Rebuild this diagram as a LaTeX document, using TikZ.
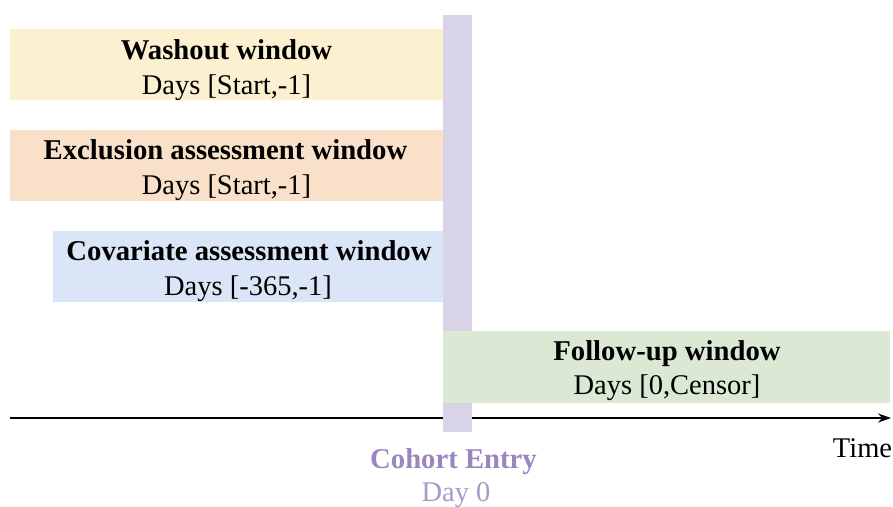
\documentclass[tikz,border=0pt]{standalone}
\usepackage{fontspec}
\setmainfont{Liberation Serif}
\usetikzlibrary{arrows.meta}
\definecolor{washc}{HTML}{FBF0CF}
\definecolor{exclc}{HTML}{F9E0C8}
\definecolor{covc}{HTML}{DAE6F8}
\definecolor{follc}{HTML}{DAE8D4}
\definecolor{barc}{HTML}{D9D3E8}
\definecolor{cohc}{HTML}{9A86BF}
\tikzset{
  winbox/.style={draw=none, inner sep=0pt, outer sep=0pt, anchor=north west},
  titletxt/.style={inner sep=0pt, anchor=base, font=\fontsize{28.7pt}{34pt}\selectfont\bfseries},
  daytxt/.style={inner sep=0pt, anchor=base, font=\fontsize{28.5pt}{34pt}\selectfont},
  axisline/.style={line width=1.5pt, -{Stealth[length=13pt,width=9pt]}}
}
\begin{document}
\begin{tikzpicture}[x=1pt,y=-1pt]
\useasboundingbox (0,0) rectangle (893,506);
% window boxes
\node[winbox, fill=washc, minimum width=433pt, minimum height=71pt] (wbox) at (10,29) {};
\node[winbox, fill=exclc, minimum width=433pt, minimum height=71pt] (ebox) at (10,130) {};
\node[winbox, fill=covc, minimum width=390pt, minimum height=71pt] (cbox) at (53,231) {};
% time axis
\coordinate (axL) at (10,418);
\coordinate (axR) at (891,418);
\draw[axisline] (axL) -- (axR);
% cohort entry bar
\node[winbox, fill=barc, minimum width=29pt, minimum height=417pt] (bar) at (443,15) {};
% follow-up box
\node[winbox, fill=follc, minimum width=447pt, minimum height=72pt] (fbox) at (443,331) {};
% texts
\node[titletxt] (wt) at (226.5,59) {Washout window};
\node[daytxt] (wd) at (226.5,94) {Days [Start,-1]};
\node[titletxt] (et) at (225.5,159) {Exclusion assessment window};
\node[daytxt] (ed) at (226.5,194) {Days [Start,-1]};
\node[titletxt] (ct) at (249,260) {Covariate assessment window};
\node[daytxt] (cd) at (248,295) {Days [-365,-1]};
\node[titletxt] (ft) at (667,360) {Follow-up window};
\node[daytxt] (fd) at (667,394) {Days [0,Censor]};
\node[daytxt] (time) at (862.5,457) {Time};
\node[titletxt, text=cohc] (coh) at (453.5,468) {Cohort Entry};
\node[daytxt, text=cohc!85!white] (day0) at (456,501) {Day 0};
\end{tikzpicture}
\end{document}
